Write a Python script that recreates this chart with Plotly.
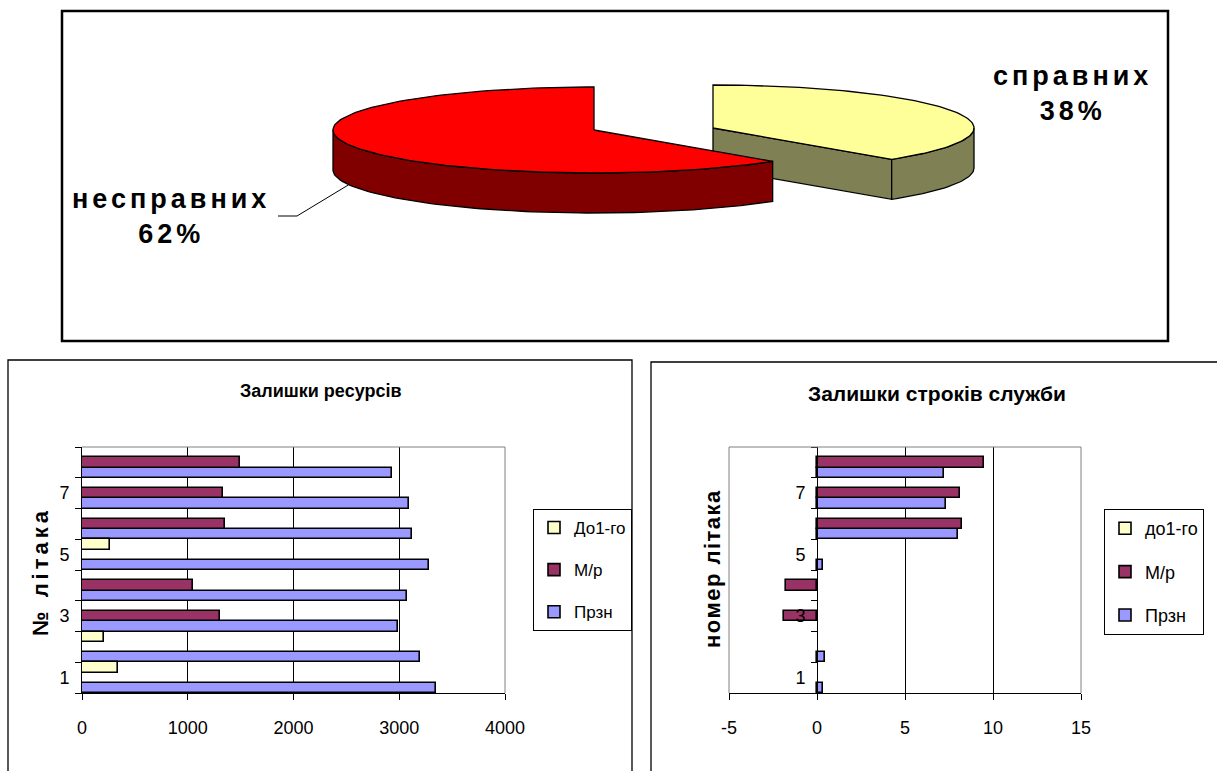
import json
import numpy as np
import plotly.graph_objects as go

W, H = 1217, 771

# ---- Pie: technical condition of the fleet ----
pie_labels = ["справних", "несправних"]
pie_shares = [38, 62]

# ---- Bar charts: aircraft numbers ----
aircraft = [1, 2, 3, 4, 5, 6, 7, 8]
aircraft_ticks = [1, 3, 5, 7]

# Remaining resources
res_names = ["Прзн", "М/р", "До1-го"]
res_przn = [3346, 3200, 2988, 3069, 3277, 3119, 3088, 2931]
res_mr = [None, None, 1308, 1050, None, 1350, 1338, 1496]
res_do1 = [340, 205, None, None, 262, None, None, None]
res_ticks = [0, 1000, 2000, 3000, 4000]

# Remaining service life
srv_names = ["Прзн", "М/р", "до1-го"]
srv_przn = [0.33, 0.44, None, None, 0.33, 8.0, 7.33, 7.23]
srv_mr = [None, None, -1.9, -1.77, None, 8.23, 8.1, 9.5]
srv_do1 = [None, None, None, None, None, None, None, None]
srv_ticks = [-5, 0, 5, 10, 15]

SANS = "Liberation Sans, Arial, sans-serif"
BAR_COLORS = ["#9999FF", "#993366", "#FFFFCC"]
LEGEND_RANK = [3, 2, 1]


def fx(x):
    return x / W


def fy(y):
    return 1 - y / H


fig = go.Figure()

# ---------------- 3-D pie built from polygons ----------------
CX, CY, RX, RY, DEPTH = 594, 130, 261, 43, 40
EXPLODE = [(119, -2), (0, 0)]
TOP_COLORS = ["#FFFF99", "#FF0000"]
SIDE_COLORS = ["#808055", "#800000"]


def arc(t0, t1, cx, cy, drop=0.0):
    n = max(2, int(abs(t1 - t0) / 1.5) + 2)
    t = np.radians(np.linspace(t0, t1, n))
    return list(cx + RX * np.cos(t)), list(cy - RY * np.sin(t) + drop)


def poly(xs, ys, fill):
    fig.add_trace(go.Scatter(
        x=xs + [xs[0]], y=ys + [ys[0]], mode="lines", fill="toself",
        fillcolor=fill, line=dict(color="black", width=1.3),
        hoverinfo="skip", showlegend=False, xaxis="x3", yaxis="y3"))


total = float(sum(pie_shares))
start = 90.0
centers = []
for i, share in enumerate(pie_shares):
    sweep = 360.0 * share / total
    t0, t1 = start - sweep, start
    start = t0
    cx, cy = CX + EXPLODE[i][0], CY + EXPLODE[i][1]
    centers.append((cx, cy))
    # radial cut faces that turn towards the viewer
    for t, visible in ((t0, np.cos(np.radians(t0)) > 1e-9),
                       (t1, np.cos(np.radians(t1)) < -1e-9)):
        if visible:
            ex = cx + RX * np.cos(np.radians(t))
            ey = cy - RY * np.sin(np.radians(t))
            poly([cx, ex, ex, cx], [cy, ey, ey + DEPTH, cy + DEPTH], SIDE_COLORS[i])
    # outer rim on the front half of the ellipse
    for k in (-2, -1, 0, 1):
        a, b = max(t0, -180 + 360 * k), min(t1, 360 * k)
        if b > a:
            xs, ys = arc(a, b, cx, cy)
            xb, yb = arc(b, a, cx, cy, DEPTH)
            poly(xs + xb, ys + yb, SIDE_COLORS[i])
    # top face
    xs, ys = arc(t0, t1, cx, cy)
    poly([cx] + xs, [cy] + ys, TOP_COLORS[i])

# leader line from the "несправних" label to the rim of its slice
rcx, rcy = centers[1]
lead_t = np.radians(-160)
fig.add_trace(go.Scatter(
    x=[278, 297, rcx + RX * np.cos(lead_t)],
    y=[216, 216, rcy - RY * np.sin(lead_t) + DEPTH],
    mode="lines", line=dict(color="black", width=1),
    hoverinfo="skip", showlegend=False, xaxis="x3", yaxis="y3"))

pie_texts = [f"{lab}<br>{sh}%" for lab, sh in zip(pie_labels, pie_shares)]
label_pos = [(1072, 94), (171, 217)]
annotations = []
for txt, (lx, ly) in zip(pie_texts, label_pos):
    annotations.append(dict(
        x=lx, y=ly, xref="x3", yref="y3", text=txt, showarrow=False,
        xanchor="center", yanchor="middle", align="center",
        font=dict(family=SANS, size=27, color="black", weight="bold")))

# ---------------- Bar chart: remaining resources ----------------
for name, vals, col, rank in zip(res_names, [res_przn, res_mr, res_do1], BAR_COLORS, LEGEND_RANK):
    fig.add_trace(go.Bar(
        x=vals, y=aircraft, orientation="h", name=name, legendgroup="r" + name,
        legendrank=rank,
        marker=dict(color=col, line=dict(color="black", width=1.6)),
        xaxis="x", yaxis="y", legend="legend", hoverinfo="skip"))

# ---------------- Bar chart: remaining service life ----------------
for name, vals, col, rank in zip(srv_names, [srv_przn, srv_mr, srv_do1], BAR_COLORS, LEGEND_RANK):
    fig.add_trace(go.Bar(
        x=vals, y=aircraft, orientation="h", name=name, legendgroup="s" + name,
        legendrank=rank,
        marker=dict(color=col, line=dict(color="black", width=1.6)),
        xaxis="x2", yaxis="y2", legend="legend2", hoverinfo="skip"))

x1_dom = [fx(82), fx(505)]
x2_dom = [fx(729), fx(1081)]
y_dom = [fy(693), fy(447)]
band_edges = [c - 0.5 for c in aircraft] + [aircraft[-1] + 0.5]
x2_range = [srv_ticks[0], srv_ticks[-1]]
zero_pos = x2_dom[0] + (0 - x2_range[0]) / (x2_range[1] - x2_range[0]) * (x2_dom[1] - x2_dom[0])

tick_font = dict(family=SANS, size=18, color="black")

common_y = dict(
    range=[band_edges[0], band_edges[-1]], tickmode="array", tickvals=aircraft_ticks,
    ticktext=[str(v) for v in aircraft_ticks],
    ticks="", showline=True, linecolor="black", linewidth=1, showgrid=False,
    zeroline=False, fixedrange=True, tickfont=tick_font, ticklabelstandoff=8,
    minor=dict(tickmode="array", tickvals=band_edges, ticks="outside", ticklen=6,
               tickcolor="black", showgrid=False))

common_x = dict(
    ticks="outside", ticklen=6, tickcolor="black", showline=True,
    linecolor="black", showgrid=True, gridcolor="black", gridwidth=1,
    zeroline=False, tickfont=tick_font, fixedrange=True, ticklabelstandoff=12)

legend_common = dict(xanchor="left", yanchor="top", traceorder="grouped",
                     tracegroupgap=17, itemwidth=30, bordercolor="black",
                     borderwidth=1, bgcolor="white")

fig.update_layout(
    width=W, height=H, margin=dict(l=0, r=0, t=0, b=0, autoexpand=False),
    paper_bgcolor="white", plot_bgcolor="rgba(0,0,0,0)",
    barmode="group", bargap=0, bargroupgap=0, hovermode=False,
    xaxis=dict(domain=x1_dom, range=[res_ticks[0], res_ticks[-1]], tickmode="array",
               tickvals=res_ticks, ticktext=[str(v) for v in res_ticks], anchor="y",
               **common_x),
    yaxis=dict(domain=y_dom, anchor="x", **common_y),
    xaxis2=dict(domain=x2_dom, range=x2_range, tickmode="array", tickvals=srv_ticks,
                ticktext=[str(v) for v in srv_ticks], anchor="y2", **common_x),
    yaxis2=dict(domain=y_dom, anchor="free", position=zero_pos, **common_y),
    xaxis3=dict(domain=[fx(62), fx(1168)], range=[62, 1168], visible=False,
                fixedrange=True, anchor="y3"),
    yaxis3=dict(domain=[fy(341), fy(11)], range=[341, 11], visible=False,
                fixedrange=True, anchor="x3"),
    legend=dict(x=fx(533), y=fy(509), font=dict(family=SANS, size=17, color="black"),
                **legend_common),
    legend2=dict(x=fx(1104), y=fy(509), font=dict(family=SANS, size=18, color="black"),
                 **legend_common),
)

# chart titles and axis titles
annotations += [
    dict(x=fx(321), y=fy(391), xref="paper", yref="paper", text="Залишки ресурсів",
         showarrow=False, xanchor="center", yanchor="middle",
         font=dict(family=SANS, size=18, color="black", weight="bold")),
    dict(x=fx(937), y=fy(394), xref="paper", yref="paper", text="Залишки строків служби",
         showarrow=False, xanchor="center", yanchor="middle",
         font=dict(family=SANS, size=21, color="black", weight="bold")),
    dict(x=fx(40), y=fy(571), xref="paper", yref="paper", text="№ літака", textangle=-90,
         showarrow=False, xanchor="center", yanchor="middle",
         font=dict(family=SANS, size=22, color="black", weight="bold")),
    dict(x=fx(712), y=fy(568), xref="paper", yref="paper", text="номер літака", textangle=-90,
         showarrow=False, xanchor="center", yanchor="middle",
         font=dict(family=SANS, size=22, color="black", weight="bold")),
]
fig.update_layout(annotations=annotations)

# frames around the three charts and grey plot-area borders
shapes = [
    dict(type="rect", xref="paper", yref="paper", x0=fx(62), x1=fx(1168), y0=fy(341), y1=fy(11),
         line=dict(color="black", width=2.5)),
    dict(type="rect", xref="paper", yref="paper", x0=fx(8), x1=fx(632), y0=fy(790), y1=fy(360),
         line=dict(color="black", width=1.3)),
    dict(type="rect", xref="paper", yref="paper", x0=fx(651), x1=fx(1240), y0=fy(790), y1=fy(362),
         line=dict(color="black", width=1.3)),
]
grey = dict(color="#808080", width=1)
for xr, yr, edges in (("x domain", "y domain", [(0, 1, 1, 1), (1, 1, 0, 1)]),
                      ("x2 domain", "y2 domain", [(0, 1, 1, 1), (0, 0, 0, 1), (1, 1, 0, 1)])):
    for x0, x1, y0, y1 in edges:
        shapes.append(dict(type="line", xref=xr, yref=yr, x0=x0, x1=x1, y0=y0, y1=y1,
                           line=grey, layer="above"))
fig.update_layout(shapes=shapes)

# wide letter spacing for the pie labels and the axis titles
spacing = {pie_texts[0]: "4px", pie_texts[1]: "4px", "№ літака": "4px", "номер літака": "1.5px"}
post = (
    "(function(){var sp=" + json.dumps(spacing, ensure_ascii=False) + ";"
    "function apply(){document.querySelectorAll('g.annotation text').forEach(function(t){"
    "var k=t.getAttribute('data-unformatted');if(k in sp){t.style.letterSpacing=sp[k];}});}"
    "apply();var gd=document.getElementById('{plot_id}');"
    "if(gd&&gd.on){gd.on('plotly_afterplot',apply);}})();"
)

fig.write_html("out.html", post_script=post, config={"displayModeBar": False})
